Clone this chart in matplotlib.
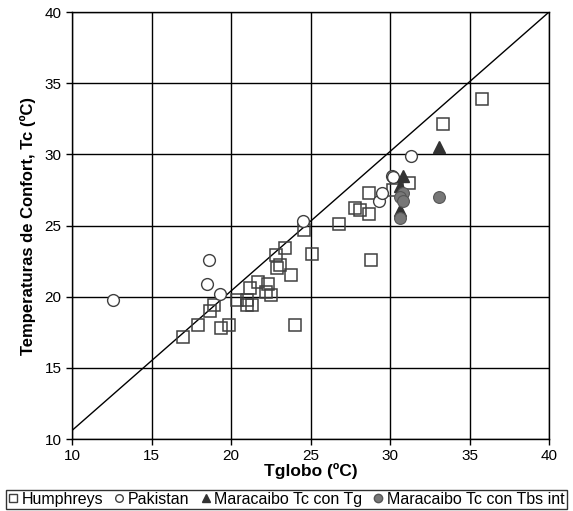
import matplotlib.pyplot as plt
from matplotlib.lines import Line2D

plt.rcParams['font.family'] = ['Liberation Sans', 'DejaVu Sans']

# Humphreys
hum_x = [17.0, 17.9, 18.7, 18.9, 19.4, 19.9, 20.4, 21.0, 21.0, 21.3, 21.2, 21.7,
         22.3, 22.2, 22.5, 22.8, 23.1, 22.9, 23.4, 23.8, 24.0, 24.6, 25.1, 26.8,
         27.8, 28.1, 28.7, 28.7, 28.8, 30.2, 31.2, 33.3, 35.8]
hum_y = [17.2, 18.0, 19.0, 19.4, 17.8, 18.0, 19.8, 19.8, 19.4, 19.4, 20.6, 21.0,
         20.9, 20.3, 20.1, 22.9, 22.2, 22.0, 23.4, 21.5, 18.0, 24.7, 23.0, 25.1,
         26.2, 26.1, 25.8, 27.3, 22.6, 27.5, 28.0, 32.1, 33.9]

# Pakistan
pak_x = [12.6, 18.6, 18.5, 19.3, 24.5, 29.3, 29.5, 30.1, 30.2, 31.3]
pak_y = [19.8, 22.6, 20.9, 20.2, 25.3, 26.7, 27.3, 28.5, 28.4, 29.9]

# Maracaibo Tc con Tg
tg_x = [30.8, 30.6, 30.6, 33.1]
tg_y = [28.5, 27.8, 26.1, 30.5]

# Maracaibo Tc con Tbs int
tbs_x = [30.8, 30.6, 30.8, 30.6, 33.1]
tbs_y = [27.3, 27.0, 26.7, 25.5, 27.0]

# reference line
line_x = [10, 40]
line_y = [10.6, 40]

fig = plt.figure(figsize=(5.73, 5.11), dpi=100)
ax = fig.add_axes([0.1257, 0.1409, 0.8325, 0.8356])

ax.grid(True, color='black', linewidth=1)
ax.set_axisbelow(True)
ax.plot(line_x, line_y, color='black', linewidth=1, zorder=2)

ax.plot(hum_x, hum_y, 's', ms=9, mfc='none', mec='#404040', mew=1.1, zorder=3)
ax.plot(pak_x, pak_y, 'o', ms=8.5, mfc='white', mec='#404040', mew=1.0, zorder=4)
ax.plot(tg_x, tg_y, '^', ms=8.5, mfc='#333333', mec='#333333', zorder=5)
ax.plot(tbs_x, tbs_y, 'o', ms=8.5, mfc='#777777', mec='#555555', mew=0.8, zorder=6)

ax.set_xlim(10, 40)
ax.set_ylim(10, 40)
ax.set_xticks(range(10, 41, 5))
ax.set_yticks(range(10, 41, 5))
ax.tick_params(direction='out', length=4, width=1, labelsize=11, color='black')
for s in ax.spines.values():
    s.set_color('black')
    s.set_linewidth(1)

ax.set_xlabel('Tglobo (ºC)', fontsize=12.5, fontweight='bold', labelpad=0)
ax.set_ylabel('Temperaturas de Confort, Tc (ºC)', fontsize=12, fontweight='bold', labelpad=6)

handles = [
    Line2D([], [], marker='s', ls='none', ms=5.5, mfc='none', mec='#404040'),
    Line2D([], [], marker='o', ls='none', ms=5.5, mfc='none', mec='#404040'),
    Line2D([], [], marker='^', ls='none', ms=6, mfc='#333333', mec='#333333'),
    Line2D([], [], marker='o', ls='none', ms=6, mfc='#777777', mec='#555555'),
]
labels = ['Humphreys', 'Pakistan', 'Maracaibo Tc con Tg', 'Maracaibo Tc con Tbs int']
leg = fig.legend(handles, labels, loc='lower center', bbox_to_anchor=(0.5, 0.0),
                 ncol=4, fontsize=11.5, frameon=True, fancybox=False,
                 edgecolor='black', handlelength=0.6, handletextpad=0.25,
                 columnspacing=0.7, borderpad=0.15, borderaxespad=0.1)
leg.get_frame().set_linewidth(1)

plt.savefig('out.png', dpi=100)
